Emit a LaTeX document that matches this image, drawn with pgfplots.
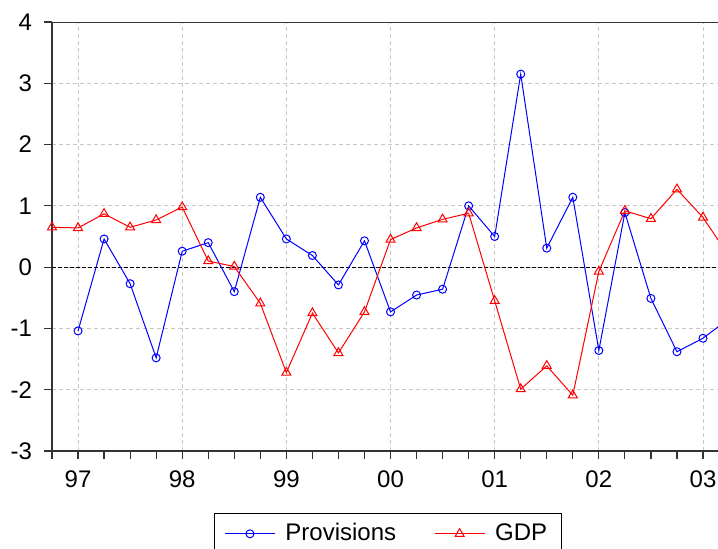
\documentclass[border=0pt]{standalone}
\usepackage{pgfplots}
\pgfplotsset{compat=1.18}
\usepackage{fontspec}
\setmainfont{Liberation Sans}
\begin{document}
\begin{tikzpicture}
\begin{axis}[
  at={(0,0)}, anchor=south west,
  scale only axis, width=333pt, height=214.5pt,
  xmin=1996.75, xmax=2003.144, ymin=-3, ymax=4,
  axis lines*=left,
  axis line style={line width=0.75pt, draw=black!80},
  tick align=outside,
  major tick length=4pt, minor tick length=4pt,
  tick style={black!80, line width=0.6pt},
  xtick={1997,1998,1999,2000,2001,2002,2003},
  xticklabels={97,98,99,00,01,02,03},
  minor xtick={1996.75,1997.25,1997.5,1997.75,1998.25,1998.5,1998.75,1999.25,1999.5,1999.75,2000.25,2000.5,2000.75,2001.25,2001.5,2001.75,2002.25,2002.5,2002.75},
  ytick={-3,-2,-1,0,1,2,3,4},
  yticklabels={-3,-2,-1,0,1,2,3,4},
  ticklabel style={font=\fontsize{12}{14}\selectfont},
  xticklabel style={yshift=-2.5pt},
  yticklabel style={xshift=-2.5pt},
  grid=major,
  major grid style={black!22, dash pattern=on 2pt off 1.5pt, line width=0.5pt},
  legend columns=2,
  legend style={at={(rel axis cs:0.243,-0.1445)}, anchor=north west,
    draw=black, line width=0.6pt, font=\fontsize{12}{14}\selectfont,
    inner xsep=5pt, inner ysep=3pt,
    /tikz/every odd column/.append style={column sep=3pt},
    /tikz/every even column/.append style={column sep=17pt}},
  legend image code/.code={\draw[mark repeat=2,mark phase=2] plot coordinates {(0pt,0pt)(12.5pt,0pt)(25pt,0pt)};},
]
\addplot[black, line width=0.5pt, dash pattern=on 2pt off 1pt, forget plot] coordinates {(1996.75,0)(2003.2,0)};
\addplot[blue, line width=0.5pt, mark=o, mark size=2pt, mark options={solid}] coordinates {
(1997.00,-1.04)(1997.25,0.46)(1997.50,-0.27)(1997.75,-1.48)
(1998.00,0.26)(1998.25,0.40)(1998.50,-0.40)(1998.75,1.14)
(1999.00,0.46)(1999.25,0.19)(1999.50,-0.29)(1999.75,0.43)
(2000.00,-0.73)(2000.25,-0.455)(2000.50,-0.36)(2000.75,1.00)
(2001.00,0.50)(2001.25,3.15)(2001.50,0.31)(2001.75,1.14)
(2002.00,-1.36)(2002.25,0.89)(2002.50,-0.51)(2002.75,-1.38)
(2003.00,-1.16)(2003.25,-0.84)};
\addlegendentry{Provisions}
\addplot[red, line width=0.5pt, mark=triangle, mark size=2.6pt, mark options={solid}] coordinates {
(1996.75,0.65)(1997.00,0.64)(1997.25,0.87)(1997.50,0.65)(1997.75,0.77)
(1998.00,0.98)(1998.25,0.10)(1998.50,0.01)(1998.75,-0.59)
(1999.00,-1.72)(1999.25,-0.75)(1999.50,-1.40)(1999.75,-0.73)
(2000.00,0.45)(2000.25,0.64)(2000.50,0.78)(2000.75,0.88)
(2001.00,-0.55)(2001.25,-1.99)(2001.50,-1.61)(2001.75,-2.09)
(2002.00,-0.07)(2002.25,0.92)(2002.50,0.79)(2002.75,1.27)
(2003.00,0.81)(2003.25,0.18)};
\addlegendentry{GDP}
\draw[line width=0.75pt, draw=black!80] (rel axis cs:0,1) -- (rel axis cs:1,1);
\end{axis}
\pgfresetboundingbox
\useasboundingbox (-26pt,-48.5pt) rectangle (333pt,225.5pt);
\end{tikzpicture}
\end{document}
